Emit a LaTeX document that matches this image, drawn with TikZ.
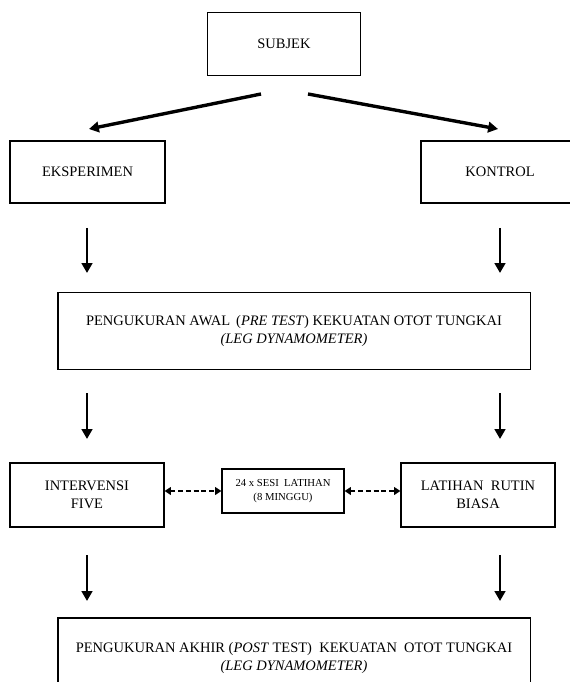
\documentclass[tikz,border=0pt]{standalone}
\usepackage{fontspec}
\setmainfont{Liberation Serif}
\usetikzlibrary{arrows.meta}
\tikzset{
  box/.style={draw, line width=0.8pt, align=center, inner sep=0pt,
              font=\fontsize{10.3}{13}\selectfont},
  smallbox/.style={box, font=\fontsize{7.6}{10.5}\selectfont},
  flowarrow/.style={-{Triangle[length=7pt,width=7.5pt]}, line width=1.8pt},
  splitarrow/.style={flowarrow, line width=2.4pt},
  linkarrow/.style={{Triangle[length=4.5pt,width=5.5pt]}-{Triangle[length=4.5pt,width=5.5pt]},
                    line width=1.1pt, dash pattern=on 3.5pt off 2pt},
}

\begin{document}
\begin{tikzpicture}[x=0.025cm, y=-0.025cm]
    \useasboundingbox (0,0) rectangle (570,682);
    \node[box, minimum width=38.25mm, minimum height=15.75mm] (subjek) at (284, 44) {SUBJEK};
    \node[box, minimum width=38.75mm, minimum height=15.5mm] (eksp) at (87.5, 172) {EKSPERIMEN};
    \node[box, minimum width=39.5mm, minimum height=15.5mm] (kontrol) at (500, 172) {KONTROL};
    \node[box, minimum width=118mm, minimum height=19.25mm] (awal) at (294, 331)
        {PENGUKURAN AWAL \,(\textit{PRE TEST}) KEKUATAN OTOT TUNGKAI\\ \textit{(LEG DYNAMOMETER)}};
    \node[box, minimum width=38.5mm, minimum height=16mm] (intervensi) at (87, 495) {INTERVENSI\\ FIVE};
    \node[box, minimum width=38.5mm, minimum height=16mm] (rutin) at (478, 495) {LATIHAN \ RUTIN\\ BIASA};
    \node[smallbox, minimum width=30.5mm, minimum height=11mm] (sesi) at (283, 491) {24 x SESI \ LATIHAN\\ (8 MINGGU)};
    \node[box, minimum width=118mm, minimum height=20mm] (akhir) at (294, 658)
        {PENGUKURAN AKHIR (\textit{POST} TEST) \ KEKUATAN \ OTOT TUNGKAI\\ \textit{(LEG DYNAMOMETER)}};
    % ujung panah
    \coordinate (kiri1) at (261, 94);
    \coordinate (kiri2) at (89, 129);
    \coordinate (kanan1) at (308, 94);
    \coordinate (kanan2) at (498, 129);
    \coordinate (ea) at (87, 228);
    \coordinate (eb) at (87, 273);
    \coordinate (ka) at (500, 228);
    \coordinate (kb) at (500, 273);
    \coordinate (pa) at (87, 393);
    \coordinate (pb) at (87, 439);
    \coordinate (qa) at (500, 393);
    \coordinate (qb) at (500, 439);
    \coordinate (ia) at (87, 555);
    \coordinate (ib) at (87, 601);
    \coordinate (ra) at (500, 555);
    \coordinate (rb) at (500, 601);
    \draw[splitarrow] (kiri1) -- (kiri2);
    \draw[splitarrow] (kanan1) -- (kanan2);
    \draw[flowarrow] (ea) -- (eb);
    \draw[flowarrow] (ka) -- (kb);
    \draw[flowarrow] (pa) -- (pb);
    \draw[flowarrow] (qa) -- (qb);
    \draw[flowarrow] (ia) -- (ib);
    \draw[flowarrow] (ra) -- (rb);
    \draw[linkarrow] (intervensi.east |- sesi.west) -- (sesi.west);
    \draw[linkarrow] (sesi.east) -- (rutin.west |- sesi.east);
  \end{tikzpicture}
\end{document}
